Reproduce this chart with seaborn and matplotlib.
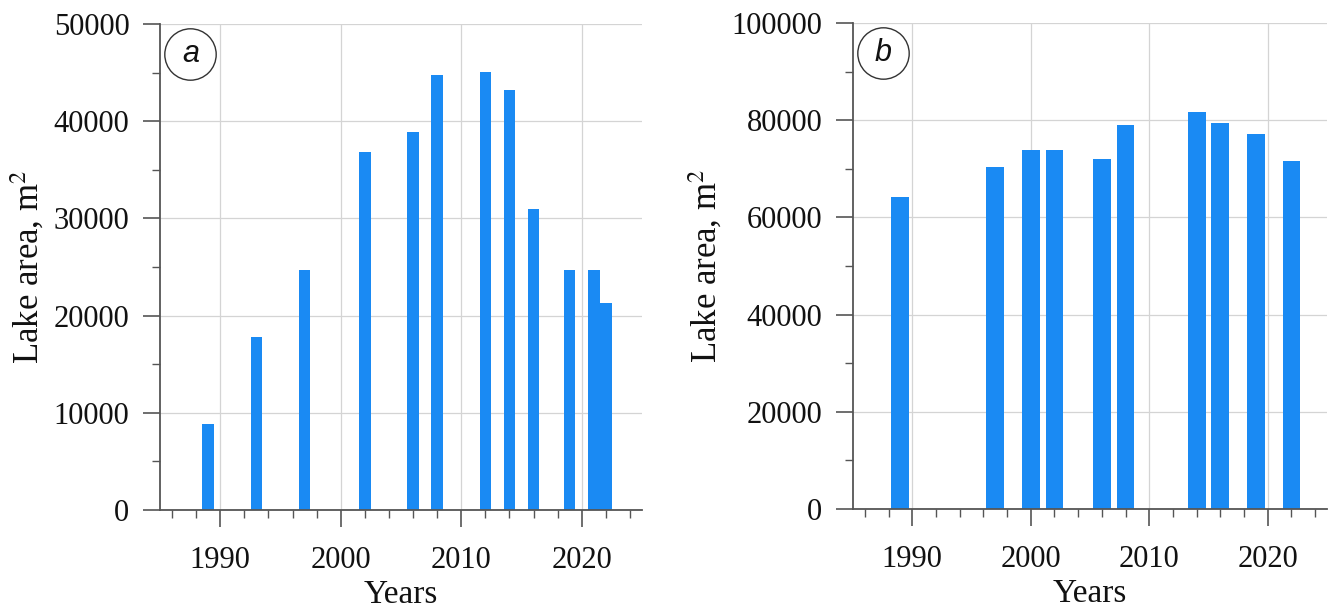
import matplotlib
matplotlib.use("Agg")
import matplotlib.pyplot as plt
import seaborn as sns
import pandas as pd
from matplotlib.ticker import MultipleLocator

# ---- data ----
years_a = [1989, 1993, 1997, 2002, 2006, 2008, 2012, 2014, 2016, 2019, 2021, 2022]
area_a = [8800, 17800, 24650, 36800, 38900, 44750, 45050, 43200, 31000, 24650, 24650, 21300]

years_b = [1989, 1997, 2000, 2002, 2006, 2008, 2014, 2016, 2019, 2022]
area_b = [64200, 70300, 73800, 73800, 72000, 79000, 81700, 79500, 77100, 71600]

panel_labels = ["a", "b"]
x_label = "Years"
y_label = "Lake area, m$^2$"

BAR = "#1a8af3"
GRID = "#d4d4d4"
SPINE = "#555555"

sns.set_theme(style="white")
plt.rcParams["font.family"] = ["Liberation Serif", "DejaVu Serif"]
plt.rcParams["mathtext.fontset"] = "stix"

fig = plt.figure(figsize=(13.38, 6.12), dpi=100)
ax_a = fig.add_axes([0.1196, 0.1667, 0.3602, 0.7941])
ax_b = fig.add_axes([0.6375, 0.1683, 0.3543, 0.7941])

df_a = pd.DataFrame({"year": years_a, "area": area_a})
df_b = pd.DataFrame({"year": years_b, "area": area_b})

sns.barplot(data=df_a, x="year", y="area", native_scale=True, width=0.95,
            color=BAR, saturation=1, ax=ax_a, zorder=2)
sns.barplot(data=df_b, x="year", y="area", native_scale=True, width=0.75,
            color=BAR, saturation=1, ax=ax_b, zorder=2)

for ax, ymax, ymaj, lab in [(ax_a, 50000, 10000, panel_labels[0]),
                            (ax_b, 100000, 20000, panel_labels[1])]:
    for p in ax.patches:
        p.set_edgecolor("none")
    ax.set_xlim(1985, 2025)
    ax.set_ylim(0, ymax)
    ax.xaxis.set_major_locator(MultipleLocator(10))
    ax.xaxis.set_minor_locator(MultipleLocator(2))
    ax.yaxis.set_major_locator(MultipleLocator(ymaj))
    ax.yaxis.set_minor_locator(MultipleLocator(ymaj / 2))
    ax.grid(True, which="major", color=GRID, linewidth=0.9, zorder=0)
    ax.set_axisbelow(True)
    for s in ["top", "right"]:
        ax.spines[s].set_visible(False)
    for s in ["left", "bottom"]:
        ax.spines[s].set_color(SPINE)
        ax.spines[s].set_linewidth(1.3)
    ax.tick_params(axis="both", which="major", direction="out", length=12,
                   width=1.2, color=SPINE, labelsize=22,
                   bottom=True, left=True, labelcolor="#111111")
    ax.tick_params(axis="x", which="major", pad=14)
    ax.tick_params(axis="y", which="major", pad=10)
    ax.tick_params(axis="both", which="minor", direction="out", length=6,
                   width=1.0, color=SPINE, bottom=True, left=True)
    ax.set_xlabel(x_label, fontsize=24, labelpad=3, color="#111111")
    ax.set_ylabel(y_label, fontsize=25, labelpad=5, color="#111111")
    # panel letter in circle
    ax.plot([0.063], [0.938], transform=ax.transAxes, marker="o", markersize=37,
            markerfacecolor="white", markeredgecolor="#333333",
            markeredgewidth=1.0, clip_on=False, zorder=5)
    ax.text(0.063, 0.938, lab, transform=ax.transAxes, ha="center", va="center",
            fontsize=22, style="italic", family=["Liberation Sans", "DejaVu Sans"],
            color="#111111", zorder=6)

fig.savefig("out.png", dpi=100)
